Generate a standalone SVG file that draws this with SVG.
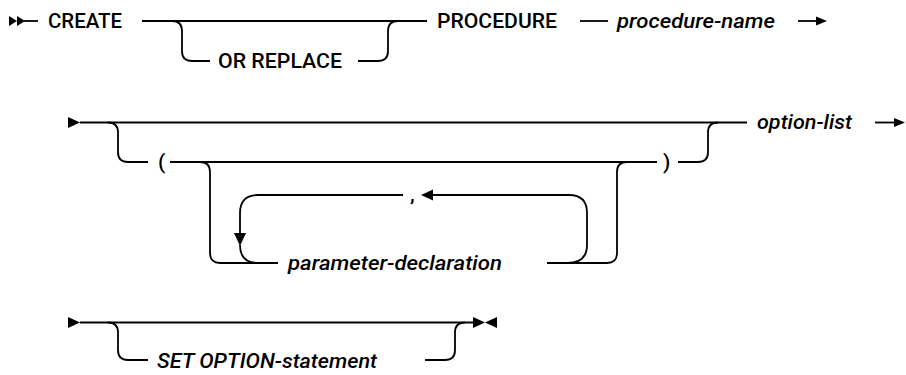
<svg xmlns="http://www.w3.org/2000/svg" width="906" height="375" viewBox="0 0 906 375">
<style>
.ln{fill:none;stroke:#000;stroke-width:1.8}
.ah{fill:#000}
.kw{font-family:Roboto,"Liberation Sans",Arial,sans-serif;font-size:21px;font-weight:500;fill:#000}
.var{font-family:Roboto,"Liberation Sans",Arial,sans-serif;font-size:21px;font-weight:500;font-style:italic;fill:#000}
</style>
<rect width="906" height="375" fill="#fff"/>
<g id="connectors">
  <polygon class="ah" points="9,16 17,21 9,26"/>
  <polygon class="ah" points="17,16 25,21 17,26"/>
  <path class="ln" d="M24 21 H38"/>
  <path class="ln" d="M142 21 H427"/>
  <path class="ln" d="M172 21 Q182 21 182 31 V51 Q182 61 192 61 H210"/>
  <path class="ln" d="M358 61 H378 Q388 61 388 51 V31 Q388 21 398 21"/>
  <path class="ln" d="M580 21 H608"/>
  <path class="ln" d="M798 21 H818"/>
  <polygon class="ah" points="816,16.5 827,21 816,25.5"/>

  <polygon class="ah" points="68,117 80,122.5 68,128"/>
  <path class="ln" d="M80 122.5 H747"/>
  <path class="ln" d="M108 122.5 Q118 122.5 118 132.5 V152 Q118 162 128 162 H148"/>
  <path class="ln" d="M170 162 H657"/>
  <path class="ln" d="M200 162 Q210 162 210 172 V253 Q210 263 220 263 H278"/>
  <path class="ln" d="M547 263 H607 Q617 263 617 253 V172 Q617 162 627 162"/>
  <path class="ln" d="M678 162 H698 Q708 162 708 152 V132.5 Q708 122.5 718 122.5"/>
  <path class="ln" d="M567 263 Q587 263 587 245 V213 Q587 195 569 195 H433"/>
  <polygon class="ah" points="421,195 433,189.5 433,200.5"/>
  <path class="ln" d="M403 195 H258 Q240 195 240 213 V234"/>
  <polygon class="ah" points="234,233 246,233 240,246"/>
  <path class="ln" d="M240 245 Q240 263 258 263"/>
  <path class="ln" d="M875 122.5 H896"/>
  <polygon class="ah" points="894,118 905,122.5 894,127"/>

  <polygon class="ah" points="68,317 80,322.5 68,328"/>
  <path class="ln" d="M80 322.5 H474"/>
  <path class="ln" d="M108 322.5 Q118 322.5 118 332.5 V350 Q118 360 128 360 H148"/>
  <path class="ln" d="M425 360 H445 Q455 360 455 350 V332.5 Q455 322.5 465 322.5"/>
  <polygon class="ah" points="473,317 485,322.5 473,328"/>
  <polygon class="ah" points="497,317 485,322.5 497,328"/>
</g>
<g id="create"><text class="kw" x="48" y="28" textLength="74" lengthAdjust="spacingAndGlyphs">CREATE</text></g>
<g id="or-replace"><text class="kw" x="218" y="68" textLength="124" lengthAdjust="spacingAndGlyphs">OR REPLACE</text></g>
<g id="procedure"><text class="kw" x="437" y="28" textLength="120" lengthAdjust="spacingAndGlyphs">PROCEDURE</text></g>
<g id="procedure-name"><text class="var" x="617" y="28" textLength="158" lengthAdjust="spacingAndGlyphs">procedure-name</text></g>
<g id="lparen"><text class="kw" x="158" y="169">(</text></g>
<g id="rparen"><text class="kw" x="663" y="169">)</text></g>
<g id="comma"><text class="kw" x="410" y="201">,</text></g>
<g id="parameter-declaration"><text class="var" x="288" y="270" textLength="214" lengthAdjust="spacingAndGlyphs">parameter-declaration</text></g>
<g id="option-list"><text class="var" x="757" y="129" textLength="95" lengthAdjust="spacingAndGlyphs">option-list</text></g>
<g id="set-option"><text class="var" x="157" y="368" textLength="220" lengthAdjust="spacingAndGlyphs">SET OPTION-statement</text></g>
</svg>
